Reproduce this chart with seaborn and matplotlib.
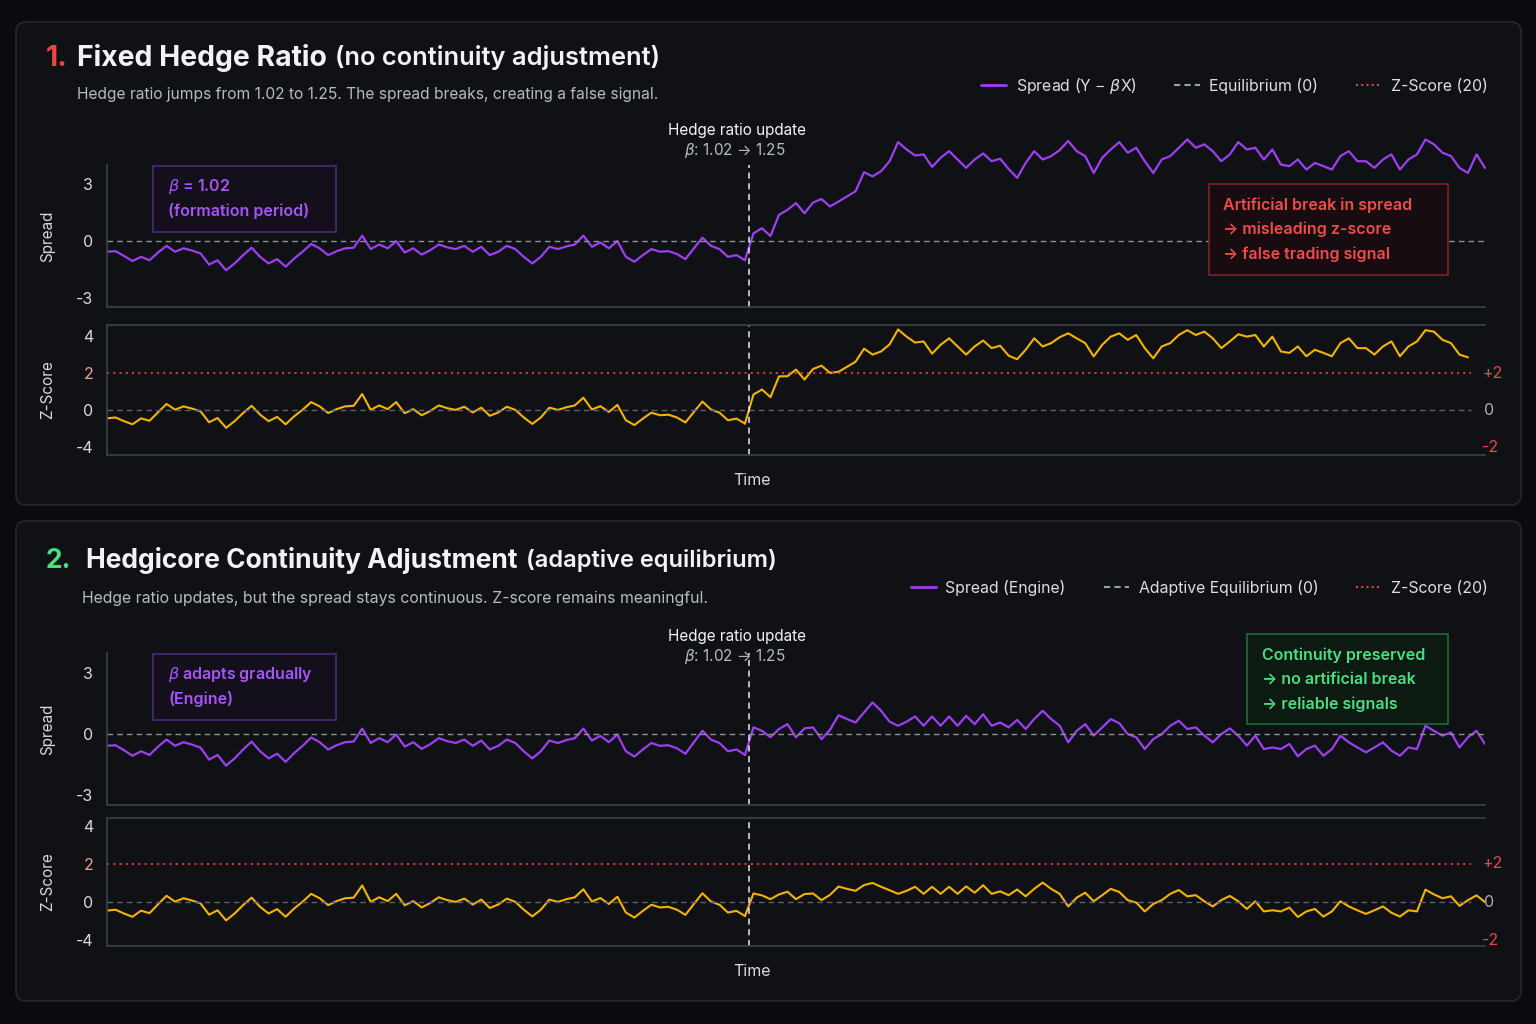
import numpy as np
import pandas as pd
import matplotlib.pyplot as plt
import matplotlib.patches as mpatches
from matplotlib.lines import Line2D
import seaborn as sns

W, H = 1536, 1024

# spread before the hedge ratio update (same in both panels)
spread_pre = [-0.58, -0.55, -0.80, -1.07, -0.85, -1.03, -0.62, -0.27, -0.58, -0.40, -0.52, -0.67,
              -1.26, -1.03, -1.56, -1.20, -0.76, -0.37, -0.85, -1.20, -0.97, -1.37,
              -0.94, -0.58, -0.17, -0.40, -0.76, -0.55, -0.40, -0.37, 0.27, -0.44, -0.20,
              -0.40, -0.02, -0.62, -0.40, -0.73, -0.50, -0.20, -0.35, -0.44, -0.27, -0.58,
              -0.32, -0.76, -0.58, -0.27, -0.44, -0.85, -1.20, -0.85, -0.32, -0.44, -0.30,
              -0.20, 0.27, -0.32, -0.09, -0.40, -0.02, -0.85, -1.11, -0.76, -0.44,
              -0.58, -0.55, -0.70, -0.97, -0.40, 0.16, -0.27, -0.44, -0.85, -0.76, -1.03]

# spread after the update, fixed beta
spread_fixed_post = [0.39, 0.66, 0.25, 1.37, 1.63, 1.99, 1.45, 2.02, 2.20, 1.81,
                     2.07, 2.34, 2.61, 3.62, 3.40, 3.67, 4.20, 5.21, 4.82, 4.50,
                     4.56, 3.90, 4.38, 4.73, 4.29, 3.85, 4.29, 4.61, 4.20,
                     4.33, 3.79, 3.32, 4.11, 4.73, 4.29, 4.47, 4.79, 5.27, 4.73,
                     4.47, 3.58, 4.38, 4.82, 5.21, 4.65, 4.91, 4.20, 3.58,
                     4.29, 4.47, 4.91, 5.35, 4.91, 5.09, 4.73, 4.20, 4.56, 5.21,
                     4.82, 4.91, 4.29, 4.82, 4.02, 3.94, 4.29, 3.76, 4.11,
                     3.94, 3.76, 4.47, 4.73, 4.20, 4.20, 3.85, 4.29, 4.56,
                     3.76, 4.29, 4.56, 5.35, 5.09, 4.65, 4.47, 3.85, 3.58, 4.56, 3.85]

# spread after the update, engine (continuity adjusted)
spread_engine_post = [0.33, 0.16, -0.16, 0.25, 0.49, -0.16, 0.28,
                      0.33, -0.25, 0.21, 0.93, 0.74, 0.57, 1.07, 1.56, 1.15, 0.61,
                      0.41, 0.61, 0.87, 0.41, 0.87, 0.41, 0.87, 0.41, 0.90, 0.49,
                      0.98, 0.41, 0.57, 0.33, 0.70, 0.25, 0.74, 1.15, 0.74, 0.41,
                      -0.41, 0.16, 0.49, -0.08, 0.33, 0.74, 0.54, 0.00, -0.16, -0.74,
                      -0.25, 0.00, 0.41, 0.66, 0.25, 0.33, -0.08, -0.41, 0.00, 0.28,
                      -0.08, -0.57, -0.08, -0.74, -0.66, -0.74, -0.49, -1.10, -0.74, -0.57,
                      -1.07, -0.74, -0.08, -0.41, -0.66, -0.90, -0.66, -0.41, -0.82, -1.07,
                      -0.66, -0.74, 0.41, 0.16, -0.08, 0.08, -0.66, -0.16, 0.16, -0.49]

z_pre = [-0.45, -0.40, -0.60, -0.77, -0.45, -0.58, -0.12, 0.33, 0.02, 0.20, 0.08, -0.07,
         -0.66, -0.43, -0.96, -0.60, -0.16, 0.23, -0.25, -0.60, -0.37, -0.77,
         -0.34, 0.02, 0.43, 0.20, -0.16, 0.05, 0.20, 0.23, 0.87, 0.01, 0.25,
         0.05, 0.43, -0.17, 0.05, -0.28, -0.05, 0.25, 0.10, 0.01, 0.18, -0.13,
         0.13, -0.31, -0.13, 0.18, 0.01, -0.40, -0.75, -0.40, 0.13, 0.01, 0.15,
         0.25, 0.67, 0.03, 0.21, -0.10, 0.28, -0.55, -0.81, -0.46, -0.14,
         -0.28, -0.25, -0.40, -0.67, -0.10, 0.46, 0.03, -0.14, -0.55, -0.46, -0.73]

z_fixed_post = [0.84, 1.11, 0.70, 1.82, 1.83, 2.19, 1.65, 2.22, 2.40, 2.01,
                2.07, 2.34, 2.61, 3.32, 3.00, 3.17, 3.55, 4.36, 3.97, 3.65,
                3.71, 3.05, 3.53, 3.88, 3.44, 3.00, 3.44, 3.76, 3.35, 3.48,
                2.94, 2.75, 3.26, 3.88, 3.44, 3.62, 3.94, 4.15, 3.88, 3.62,
                2.90, 3.53, 3.97, 4.15, 3.80, 4.06, 3.35, 2.80, 3.44, 3.62,
                4.06, 4.32, 4.06, 4.24, 3.88, 3.35, 3.71, 4.10, 3.97, 4.06,
                3.44, 3.97, 3.17, 3.09, 3.44, 2.91, 3.26, 3.09, 2.91, 3.62,
                3.88, 3.35, 3.35, 3.00, 3.44, 3.71, 2.91, 3.44, 3.71, 4.32,
                4.24, 3.80, 3.62, 3.00, 2.85]

z_engine_post = [0.45, 0.35, 0.15, 0.40, 0.54, 0.15, 0.42, 0.45, 0.10, 0.38,
                 0.81, 0.69, 0.59, 0.89, 1.00, 0.80, 0.62,
                 0.43, 0.59, 0.80, 0.43, 0.80, 0.43, 0.80, 0.43, 0.82, 0.49,
                 0.88, 0.43, 0.56, 0.36, 0.66, 0.30, 0.69, 1.02, 0.69, 0.43,
                 -0.23, 0.23, 0.49, 0.04, 0.36, 0.69, 0.53, 0.10, -0.03, -0.49,
                 -0.10, 0.10, 0.43, 0.63, 0.30, 0.36, 0.04, -0.23, 0.10, 0.32,
                 0.04, -0.36, 0.04, -0.49, -0.43, -0.49, -0.29, -0.78, -0.49, -0.36,
                 -0.76, -0.49, 0.04, -0.23, -0.43, -0.62, -0.43, -0.23, -0.56, -0.76,
                 -0.43, -0.49, 0.65, 0.40, 0.20, 0.30, -0.20, 0.10, 0.35, 0.00]

beta_old, beta_new = 1.02, 1.25
z_window = 20
z_band = 2

BG = '#0a0b0e'
CARD = '#0f1115'
CARD_EDGE = '#25282f'
PURPLE = '#9d3ff2'
GOLD = '#f5b301'
GREY = '#8a8f98'
RED = '#e5484d'
GREEN = '#4ade80'
TXT = '#f2f3f5'
SUB = '#b6bac2'
TICK = '#d6d8dc'
SPINE = '#3a3e46'

sns.set_theme(style='dark', rc={'axes.facecolor': 'none', 'figure.facecolor': BG,
                                'axes.edgecolor': SPINE, 'text.color': TXT,
                                'xtick.color': TICK, 'ytick.color': TICK})
plt.rcParams['font.family'] = ['Inter', 'DejaVu Sans']
plt.rcParams['mathtext.fontset'] = 'dejavusans'

fig = plt.figure(figsize=(W / 100, H / 100), dpi=100)
renderer = fig.canvas.get_renderer()


def fx(x):
    return x / W


def fy(y):
    return 1 - y / H


def px_axes(x0, y0, x1, y1):
    return fig.add_axes([fx(x0), fy(y1), (x1 - x0) / W, (y1 - y0) / H])


def series(values, start=0):
    return pd.DataFrame({'t': np.arange(start, start + len(values)), 'v': values})


def card(y0, y1):
    box = mpatches.FancyBboxPatch((16 / 100, (H - y1) / 100), 1505 / 100, (y1 - y0) / 100,
                                  boxstyle='round,pad=0,rounding_size=0.1',
                                  transform=fig.dpi_scale_trans, facecolor=CARD,
                                  edgecolor=CARD_EDGE, lw=1.2, zorder=-10)
    fig.patches.append(box)


def note_box(x0, y0, x1, y1, lines, color, edge, face, tx, ty0, step):
    rect = mpatches.Rectangle((fx(x0), fy(y1)), (x1 - x0) / W, (y1 - y0) / H,
                              transform=fig.transFigure, facecolor=face,
                              edgecolor=edge, lw=1.2, zorder=5)
    fig.patches.append(rect)
    for i, s in enumerate(lines):
        fig.text(fx(tx), fy(ty0 + i * step), s, color=color, fontsize=11.5,
                 fontweight='semibold', va='center', ha='left', zorder=6)


def title_row(num, num_color, main, extra, y, x_main, size, extra_size):
    fig.text(fx(46), fy(y), num, color=num_color, fontsize=size, fontweight='bold', va='center')
    t = fig.text(fx(x_main), fy(y), main, color=TXT, fontsize=size, fontweight='bold', va='center')
    bb = t.get_window_extent(renderer)
    fig.text(fx(x_main + bb.width + 8), fy(y), extra, color=TXT, fontsize=extra_size,
             fontweight='semibold', va='center')


n_pre = len(spread_pre)
t_break = n_pre - 0.5
t_end = n_pre + len(spread_fixed_post) - 1


def spread_axes(ax, pre, post, clip):
    sns.lineplot(data=series(pre), x='t', y='v', ax=ax, color=PURPLE, lw=1.6, clip_on=clip)
    sns.lineplot(data=series([pre[-1]] + post, n_pre - 1), x='t', y='v', ax=ax,
                 color=PURPLE, lw=1.6, clip_on=clip)
    ax.axhline(0, color=GREY, ls=(0, (4, 3)), lw=1)
    ax.axvline(t_break, color='#e8e8e8', ls=(0, (4, 3)), lw=1.1)
    ax.set_xlim(0, t_end)
    ax.set_ylim(-3.5, 4)
    ax.set_yticks([-3, 0, 3])
    ax.set_yticklabels(['-3', '0', '3'])
    ax.set_xticks([])
    ax.set_xlabel('')
    ax.set_ylabel('Spread', color=TICK, fontsize=11)
    ax.yaxis.set_label_coords(-0.038, 0.5)
    ax.tick_params(axis='y', labelsize=11.5, length=2, color=SPINE, pad=8)
    for side in ['top', 'right']:
        ax.spines[side].set_visible(False)
    for side in ['left', 'bottom']:
        ax.spines[side].set_color(SPINE)


def z_axes(ax, pre, post, lo, hi):
    sns.lineplot(data=series(pre), x='t', y='v', ax=ax, color=GOLD, lw=1.5)
    sns.lineplot(data=series([pre[-1]] + post, n_pre - 1), x='t', y='v', ax=ax,
                 color=GOLD, lw=1.5)
    ax.axhline(0, xmax=0.99, color='#5c616a', ls=(0, (4, 3)), lw=1)
    ax.axhline(z_band, xmax=0.99, color='#d23a3a', ls=(0, (1, 2)), lw=1.5)
    ax.axvline(t_break, color='#e8e8e8', ls=(0, (4, 3)), lw=1.1)
    ax.set_xlim(0, t_end)
    ax.set_ylim(lo, hi)
    ax.set_yticks([4, 2, 0, -2])
    ax.set_yticklabels(['4', '2', '0', '-4'])
    ax.get_yticklabels()[1].set_color('#e8a598')
    ax.set_xticks([])
    ax.set_xlabel('Time', color=TICK, fontsize=11.5)
    ax.xaxis.set_label_coords(0.468, -0.14)
    ax.set_ylabel('Z-Score', color=TICK, fontsize=11)
    ax.yaxis.set_label_coords(-0.038, 0.5)
    ax.tick_params(axis='y', labelsize=11.5, length=2, color=SPINE, pad=8)
    ax.spines['right'].set_visible(False)
    for side in ['top', 'left', 'bottom']:
        ax.spines[side].set_color(SPINE)
    tr = ax.get_yaxis_transform()
    ax.text(0.998, z_band, f'+{z_band}', transform=tr, color=RED, fontsize=11.5, va='center')
    ax.text(0.999, 0, '0', transform=tr, color='#a9adb4', fontsize=11.5, va='center')
    ax.text(0.998, -z_band, f'-{z_band}', transform=tr, color=RED, fontsize=11.5, va='center')


def legend(labels, y):
    handles = [Line2D([], [], color=PURPLE, lw=2),
               Line2D([], [], color='#9a9ea6', lw=1.5, ls=(0, (3, 2))),
               Line2D([], [], color='#e04040', lw=1.5, ls=(0, (1, 1.5)))]
    fig.legend(handles, labels, loc='center right', bbox_to_anchor=(fx(1488), fy(y)),
               ncol=3, frameon=False, fontsize=11.4, handlelength=1.6, handletextpad=0.6,
               columnspacing=2.4, borderpad=0, borderaxespad=0, labelcolor='#dcdee2')


def update_label(y):
    fig.text(fx(737), fy(y), 'Hedge ratio update', color=TXT, fontsize=11, ha='center', va='center')
    fig.text(fx(735), fy(y + 21), rf'$\beta$: {beta_old:.2f} → {beta_new:.2f}', color=SUB,
             fontsize=11, ha='center', va='center')


# panel 1
card(22, 505)
title_row('1.', '#ef4444', 'Fixed Hedge Ratio', '(no continuity adjustment)', 58, 77, 20.4, 18.3)
fig.text(fx(77), fy(95), f'Hedge ratio jumps from {beta_old:.2f} to {beta_new:.2f}. '
         'The spread breaks, creating a false signal.', color=SUB, fontsize=11.2, va='center')
legend([r'Spread (Y − $\beta$X)', 'Equilibrium (0)', f'Z-Score ({z_window})'], 86)
update_label(130)

ax1 = px_axes(107, 165, 1485, 307)
spread_axes(ax1, spread_pre, spread_fixed_post, False)
ax2 = px_axes(107, 325, 1485, 455)
z_axes(ax2, z_pre, z_fixed_post, -2.43, 4.6)

note_box(153, 166, 336, 232, [rf'$\beta$ = {beta_old:.2f}', '(formation period)'],
         '#a855f7', '#4a2a7a', '#13101c', 168, 187, 24)
note_box(1209, 184, 1448, 275, ['Artificial break in spread', '→ misleading z-score',
                                '→ false trading signal'],
         '#f24b4b', '#7d2226', '#170d10', 1223, 205, 24.5)

# panel 2
card(521, 1001)
title_row('2.', GREEN, 'Hedgicore Continuity Adjustment', '(adaptive equilibrium)', 561, 86, 19, 17)
fig.text(fx(82), fy(598), 'Hedge ratio updates, but the spread stays continuous. '
         'Z-score remains meaningful.', color=SUB, fontsize=11.4, va='center')
legend(['Spread (Engine)', 'Adaptive Equilibrium (0)', f'Z-Score ({z_window})'], 588)
update_label(636)

ax3 = px_axes(107, 653, 1485, 805)
spread_axes(ax3, spread_pre, spread_engine_post, True)
ax4 = px_axes(107, 818, 1485, 946)
z_axes(ax4, z_pre, z_engine_post, -2.3, 4.4)

note_box(153, 654, 336, 720, [r'$\beta$ adapts gradually', '(Engine)'],
         '#a855f7', '#4a2a7a', '#13101c', 168, 675, 24)
note_box(1247, 634, 1448, 724, ['Continuity preserved', '→ no artificial break',
                                '→ reliable signals'],
         GREEN, '#1f6b37', '#0d1a12', 1262, 655, 24.5)

fig.savefig('out.png', dpi=100, facecolor=BG)
